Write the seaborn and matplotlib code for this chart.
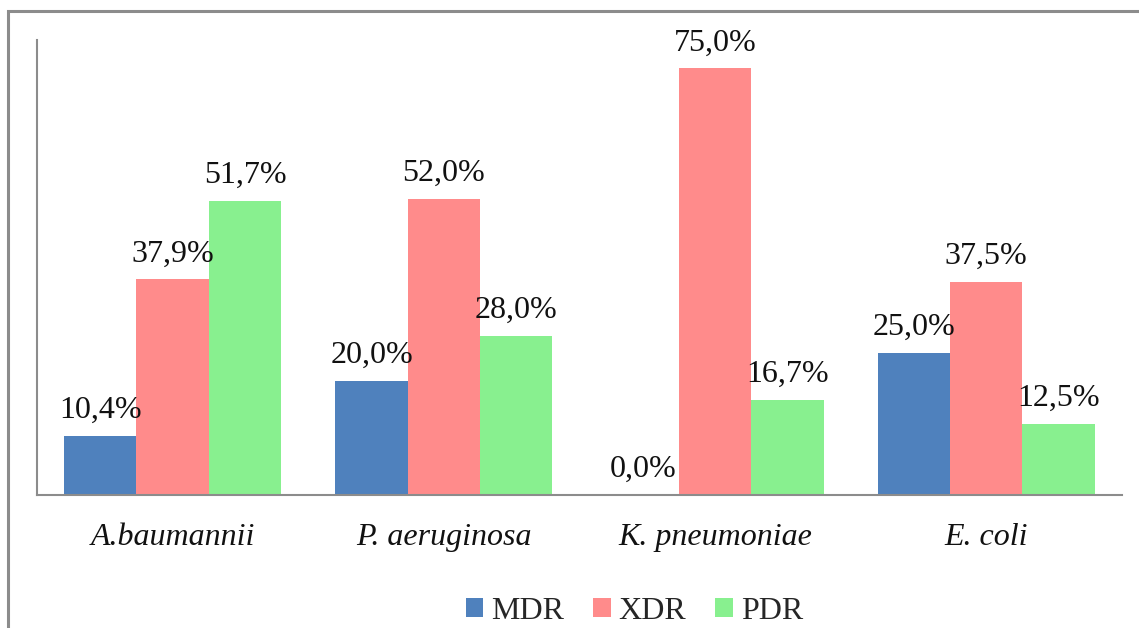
import matplotlib
matplotlib.use("Agg")
import matplotlib.pyplot as plt
from matplotlib.patches import Rectangle
import seaborn as sns
import pandas as pd

# Share of resistance profiles per organism (%)
organisms = ["A.baumannii", "P. aeruginosa", "K. pneumoniae", "E. coli"]
profiles = ["MDR", "XDR", "PDR"]
mdr = [10.4, 20.0, 0.0, 25.0]
xdr = [37.9, 52.0, 75.0, 37.5]
pdr = [51.7, 28.0, 16.7, 12.5]
colors = ["#4F81BD", "#FF8B8B", "#88F08F"]

df = pd.DataFrame({
    "organism": organisms * 3,
    "profile": [p for p in profiles for _ in organisms],
    "value": mdr + xdr + pdr,
})

sns.set_theme(style="white")
plt.rcParams["font.family"] = ["Liberation Serif", "DejaVu Serif"]

fig = plt.figure(figsize=(11.39, 6.28), dpi=100)
ax = fig.add_axes([0.0325, 0.2118, 0.9525, 0.7245])

sns.barplot(data=df, x="organism", y="value", hue="profile",
            order=organisms, hue_order=profiles, palette=colors,
            saturation=1, width=0.8, gap=0, linewidth=0, ax=ax)

for container in ax.containers:
    ax.bar_label(container,
                 labels=[f"{v:.1f}%".replace(".", ",") for v in container.datavalues],
                 padding=8, fontsize=23, color="#111111")

ax.set_ylim(0, 80)
ax.set_xlim(-0.5, 3.5)
ax.set_xlabel("")
ax.set_ylabel("")
ax.set_yticks([])
ax.tick_params(axis="x", length=0, pad=20)
for lbl in ax.get_xticklabels():
    lbl.set_fontstyle("italic")
    lbl.set_fontsize(23)
    lbl.set_color("#111111")

for side in ["top", "right"]:
    ax.spines[side].set_visible(False)
for side in ["left", "bottom"]:
    ax.spines[side].set_color("#8c8c8c")
    ax.spines[side].set_linewidth(1.5)

handles, labels = ax.get_legend_handles_labels()
ax.legend_.remove()
fig.legend(handles, labels, loc="center", bbox_to_anchor=(0.557, 0.026),
           ncol=3, frameon=False, fontsize=23, handlelength=0.55,
           handleheight=0.55, handletextpad=0.25, columnspacing=0.9)

# Outer frame around the chart area
fig.patches.append(Rectangle((8 / 1139, -0.05), 1.2, 1.05 - 11 / 628,
                             transform=fig.transFigure, fill=False,
                             edgecolor="#8c8c8c", linewidth=2.2, clip_on=False))

fig.savefig("out.png", dpi=100)
